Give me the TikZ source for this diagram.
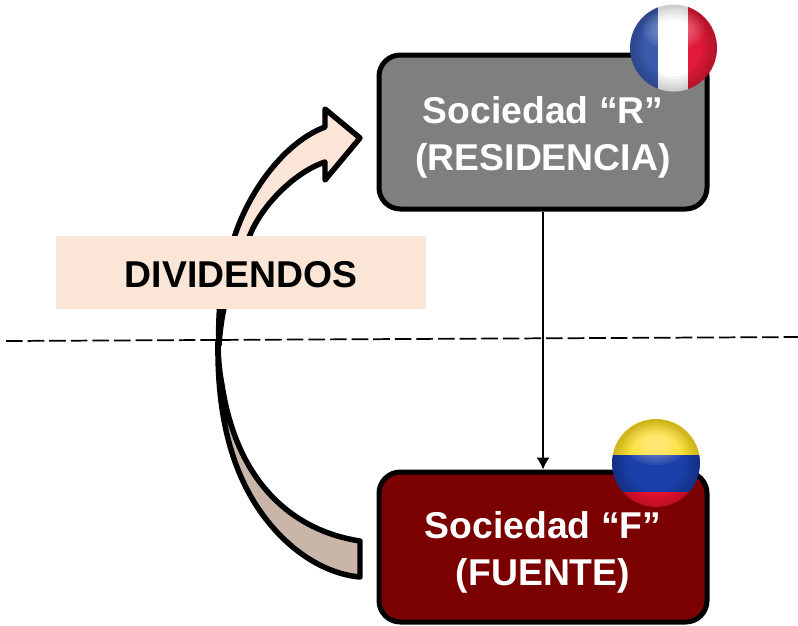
\documentclass[tikz,border=0pt]{standalone}
\usepackage{fontspec}
\setmainfont{Liberation Sans}
\definecolor{peach}{HTML}{FBE5D6}
\definecolor{tan2}{HTML}{C9B6A9}
\definecolor{boxgray}{HTML}{7F7F7F}
\definecolor{boxred}{HTML}{7B0000}
\definecolor{frblue}{HTML}{3A5BAE}
\definecolor{frred}{HTML}{E01A38}
\definecolor{coyellow}{HTML}{FFE028}
\definecolor{coblue}{HTML}{1A3FA8}
\definecolor{cored}{HTML}{EE1230}
\usetikzlibrary{arrows.meta}
\tikzset{
  x=0.75pt,y=-0.75pt,
  entity/.style={draw=black,line width=3.75pt,rounded corners=16pt,minimum width=246pt,
    text=white,align=center,font=\fontsize{28}{35.5}\selectfont\bfseries,inner sep=0pt},
  ribbon/.style={draw=black,line width=4.1pt,line join=round},
  label box/.style={fill=peach,minimum width=277.5pt,minimum height=54.75pt,inner sep=0pt,
    font=\fontsize{28}{32}\selectfont\bfseries},
  flow/.style={draw=black,line width=1.2pt,-{Latex[length=9pt,width=10pt]}},
  border/.style={draw=black,line width=1.3pt,dash pattern=on 12.5pt off 3.7pt}
}
\newcommand{\sphereshade}[3]{%
  \foreach \w in {6,12,...,30}{\draw[black,opacity=0.04,line width=\w*0.75pt] (#1,#2) circle[radius=#3];}
  \foreach \s in {0.95,0.85,...,0.25}{\fill[white,opacity=0.06] (#1,#2-#3*0.42) ellipse[x radius=#3*0.75*\s,y radius=#3*0.5*\s];}
}
\begin{document}
\begin{tikzpicture}
\useasboundingbox (0,0) rectangle (798,625);
\coordinate (dashL) at (6,341);
\coordinate (dashR) at (804,337);
% curved arrow
\draw[ribbon,fill=tan2] (360,541) .. controls (300,532) and (238,490) .. (222,385)
  .. controls (219,370) and (218,355) .. (218,340)
  .. controls (217,400) and (226,458) .. (256,505)
  .. controls (285,550) and (325,574) .. (360,577) -- cycle;
\draw[ribbon,fill=peach] (219,345) .. controls (217,300) and (225,262) .. (235,235)
  .. controls (250,190) and (285,142) .. (325,127) -- (325,109) -- (360,138) -- (325,180) -- (325,162)
  .. controls (295,172) and (262,205) .. (250,235)
  .. controls (235,265) and (222,300) .. (219,345) -- cycle;
\node[label box] (divlabel) at (241,272.5) {\rule{0pt}{23pt}DIVIDENDOS};
\draw[border] (dashL) -- (dashR);
% entities
\node[entity,fill=boxgray,minimum height=115.5pt] (resid) at (543,132) {\rule{0pt}{28pt}Sociedad “R”\\(RESIDENCIA)};
\node[entity,fill=boxred,minimum height=112.5pt] (fuente) at (543,547) {\rule{0pt}{28pt}Sociedad “F”\\(FUENTE)};
\draw[flow] (resid) -- (fuente);
% French flag
\begin{scope}
  \clip (673.5,48) circle[radius=43.5];
  \fill[frblue] (625,0) rectangle (658,95);
  \fill[white] (658,0) rectangle (688,95);
  \fill[frred] (688,0) rectangle (720,95);
  \sphereshade{673.5}{48}{43.5}
\end{scope}
% Colombian flag
\begin{scope}
  \clip (656,463) circle[radius=44];
  \fill[coyellow] (610,415) rectangle (702,455);
  \fill[coblue] (610,455) rectangle (702,492);
  \fill[cored] (610,492) rectangle (702,510);
  \sphereshade{656}{463}{44}
\end{scope}
\end{tikzpicture}
\end{document}
